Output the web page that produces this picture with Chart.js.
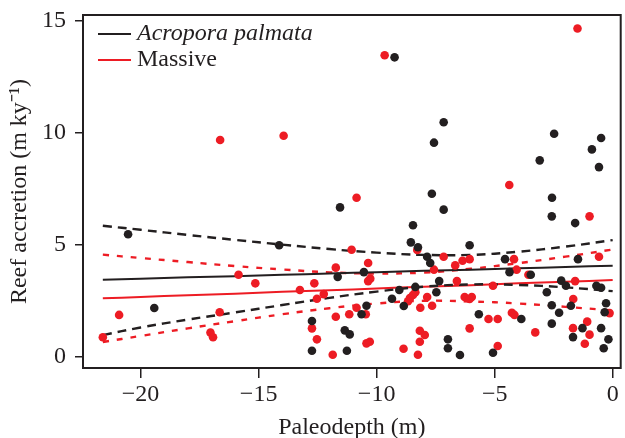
<!DOCTYPE html>
<html><head><meta charset="utf-8">
<script src="https://cdn.jsdelivr.net/npm/chart.js@4/dist/chart.umd.min.js"></script>
<style>html,body{margin:0;padding:0;background:#fff}#wrap{width:625px;height:438px}</style>
</head><body><div id="wrap"><canvas id="c" width="625" height="438"></canvas></div>
<script>
// Acropora palmata (black)
const apX=[-20.53,-14.13,-19.42,-9.24,-7.16,-7.57,-2.48,-0.49,-0.88,-3.09,-0.58,-7.66,-2.57,-7.16,-8.46,-11.55,-2.58,-1.59,-8.55,-8.25,-7.86,-7.73,-10.54,-11.65,-7.35,-8.36,-9.04,-7.47,-9.35,-8.85,-10.43,-10.64,-12.74,-11.35,-11.14,-6.98,-6.98,-12.74,-11.26,-6.47,-6.06,-4.56,-1.47,-4.37,-3.47,-2.18,-1.98,-0.69,-0.49,-2.79,-2.58,-1.77,-0.28,-0.34,-2.27,-5.67,-3.87,-2.58,-1.28,-0.49,-1.68,-0.18,-0.38,-5.07];
const apY=[5.48,4.99,2.19,13.38,10.48,9.57,9.97,9.78,9.27,8.78,8.48,7.29,7.11,6.58,5.88,6.68,6.28,5.98,5.12,4.90,4.48,4.20,3.79,3.58,3.39,3.13,2.99,2.89,2.60,2.28,2.29,1.91,1.61,1.19,1.01,0.79,0.39,0.28,0.28,0.09,4.99,4.37,4.37,3.79,3.67,3.41,3.18,3.18,3.09,2.89,2.31,2.29,2.40,2.00,1.98,1.91,1.70,1.49,1.29,1.29,0.89,0.79,0.39,0.19];
// Massive (red)
const mX=[-16.63,-13.94,-9.66,-1.49,-4.38,-10.85,-0.98,-15.85,-15.14,-13.25,-20.91,-16.65,-17.04,-16.93,-21.6,-11.06,-8.28,-7.16,-10.36,-11.73,-6.67,-6.36,-6.06,-7.57,-10.27,-10.36,-12.64,-12.24,-8.36,-8.46,-8.59,-8.67,-7.86,-12.53,-7.65,-8.15,-10.85,-10.46,-11.16,-11.73,-12.74,-12.53,-8.17,-7.96,-8.17,-10.29,-10.43,-11.86,-8.86,-8.25,-0.58,-4.18,-4.07,-3.57,-6.60,-5.07,-1.59,-1.67,-6.27,-5.97,-6.06,-0.13,-5.26,-4.87,-4.27,-4.16,-6.06,-3.28,-1.68,-1.08,-0.98,-1.18,-4.87];
const mY=[9.69,9.88,13.47,14.67,7.68,7.11,6.28,3.67,3.29,2.99,1.88,2.00,1.09,0.88,0.88,4.79,4.78,4.48,4.20,3.99,4.09,4.30,4.37,3.90,3.50,3.39,3.29,2.81,2.89,2.77,2.63,2.49,2.68,2.60,2.29,2.20,2.20,1.91,1.91,1.80,1.28,0.79,1.17,0.98,0.68,0.68,0.61,0.10,0.37,0.10,4.48,4.37,3.90,3.67,3.39,3.18,3.39,2.59,2.68,2.68,2.59,1.96,1.70,1.70,1.98,1.88,1.28,1.10,1.29,1.58,1.00,0.59,0.49];
// Regression fits and confidence bands
const fitX=[-21.6,-20,-18,-16,-14,-12,-10,-8,-6,-4,-2,0];
const apFit=[3.45,3.50,3.56,3.61,3.67,3.73,3.79,3.85,3.90,3.96,4.02,4.08];
const apUpper=[5.86,5.68,5.45,5.23,5.02,4.82,4.66,4.56,4.56,4.70,4.93,5.22];
const apLower=[0.98,1.32,1.67,1.99,2.32,2.64,2.92,3.14,3.24,3.22,3.11,2.94];
const mFit=[2.62,2.68,2.76,2.83,2.91,2.98,3.06,3.14,3.21,3.29,3.36,3.44];
const mUpper=[4.57,4.42,4.24,4.06,3.91,3.78,3.73,3.77,3.94,4.19,4.48,4.80];
const mLower=[0.67,0.94,1.28,1.60,1.91,2.18,2.39,2.51,2.48,2.39,2.24,2.08];
const xTicks=[-20,-15,-10,-5,0];
const yTicks=[0,5,10,15];
const seriesNames=['Acropora palmata','Massive'];

const BLACK='#231f20', RED='#ed1c24';
const FONT='"Liberation Serif", "Times New Roman", serif';
const pts=(xs,ys)=>xs.map((x,i)=>({x:x,y:ys[i]}));

const lineDs=(ys,color,dash,w)=>({type:'line',data:pts(fitX,ys),borderColor:color,borderWidth:w,borderDash:dash,
  pointRadius:0,tension:0.4,fill:false,order:2});

const framePlugin={id:'frame',afterDraw(chart){
  const a=chart.chartArea,ctx=chart.ctx;
  ctx.save();ctx.strokeStyle=BLACK;ctx.lineWidth=2;
  ctx.strokeRect(a.left,a.top,a.right-a.left,a.bottom-a.top);
  // legend
  const items=[{t:seriesNames[0],c:BLACK,y:34,f:'italic 24px '+FONT},{t:seriesNames[1],c:RED,y:60,f:'24px '+FONT}];
  items.forEach(it=>{
    ctx.strokeStyle=it.c;ctx.lineWidth=2;ctx.beginPath();ctx.moveTo(98,it.y);ctx.lineTo(131,it.y);ctx.stroke();
    ctx.fillStyle=BLACK;ctx.font=it.f;ctx.textBaseline='middle';ctx.textAlign='left';ctx.fillText(it.t,137,it.y);
  });
  ctx.restore();
}};

new Chart(document.getElementById('c'),{
  type:'scatter',
  data:{datasets:[
    {label:seriesNames[0],data:pts(apX,apY),backgroundColor:BLACK,borderWidth:0,pointRadius:4.3,order:0},
    {label:seriesNames[1],data:pts(mX,mY),backgroundColor:RED,borderWidth:0,pointRadius:4.3,order:1},
    lineDs(apFit,BLACK,[],2),
    lineDs(apUpper,BLACK,[9,6],2.4),
    lineDs(apLower,BLACK,[9,6],2.4),
    lineDs(mFit,RED,[],2),
    lineDs(mUpper,RED,[6,8],2.4),
    lineDs(mLower,RED,[6,8],2.4)
  ]},
  options:{
    responsive:false,animation:false,devicePixelRatio:1,
    layout:{padding:{top:15,right:1,left:0,bottom:0}},
    plugins:{legend:{display:false},tooltip:{enabled:false}},
    scales:{
      x:{type:'linear',min:-22.44,max:0.34,
        afterBuildTicks:s=>{s.ticks=xTicks.map(v=>({value:v}));},
        afterFit:s=>{s.height=70;s.paddingLeft=0;s.paddingRight=0;},
        ticks:{callback:v=>v<0?'\u2212'+Math.abs(v):String(v),font:{family:FONT,size:24},color:BLACK,padding:2,maxRotation:0,autoSkip:false},
        grid:{drawOnChartArea:false,drawTicks:true,tickLength:10,color:BLACK,lineWidth:1.5},
        border:{display:false},
        title:{display:true,text:'Paleodepth (m)',font:{family:FONT,size:24},color:BLACK,padding:{top:0,bottom:-4}}
      },
      y:{type:'linear',min:-0.49,max:15.27,
        afterBuildTicks:s=>{s.ticks=yTicks.map(v=>({value:v}));},
        afterFit:s=>{s.width=83;s.paddingTop=0;s.paddingBottom=0;},
        ticks:{font:{family:FONT,size:24},color:BLACK,padding:9,autoSkip:false},
        grid:{drawOnChartArea:false,drawTicks:true,tickLength:8,color:BLACK,lineWidth:1.5},
        border:{display:false},
        title:{display:true,text:'Reef accretion (m ky\u207B\u00B9)',font:{family:FONT,size:24},color:BLACK,padding:{top:5,bottom:0}}
      }
    }
  },
  plugins:[framePlugin]
});
</script></body></html>
